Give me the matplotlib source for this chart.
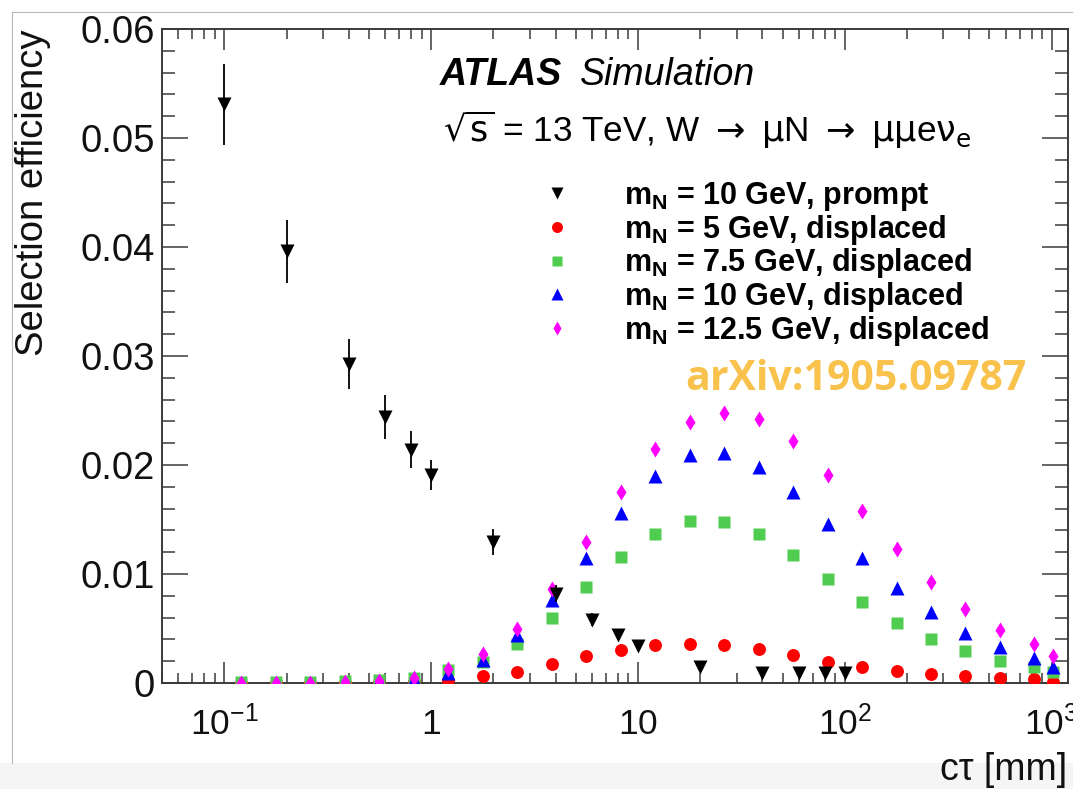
import numpy as np
import matplotlib
matplotlib.use('Agg')
import matplotlib.pyplot as plt
from matplotlib.ticker import FixedLocator, LogLocator, MultipleLocator, NullFormatter
from matplotlib.patches import Rectangle
from matplotlib.lines import Line2D

plt.rcParams['font.family'] = ['Liberation Sans', 'DejaVu Sans']
plt.rcParams['mathtext.fontset'] = 'custom'
plt.rcParams['mathtext.rm'] = 'Liberation Sans'
plt.rcParams['mathtext.it'] = 'Liberation Sans:italic'
plt.rcParams['mathtext.bf'] = 'Liberation Sans:bold'

# prompt sample, m_N = 10 GeV
ctau_prompt = [0.1, 0.2, 0.4, 0.6, 0.8, 1.0, 2.0, 4.0, 6.0, 8.0, 10, 20, 40, 60, 80, 100]
eff_prompt = [0.0531, 0.0396, 0.0293, 0.0244, 0.0214, 0.0191, 0.0129, 0.0082, 0.0058,
              0.0044, 0.0034, 0.0015, 0.0009, 0.0009, 0.0009, 0.0009]
err_prompt = [0.0037, 0.0029, 0.0023, 0.0020, 0.0017, 0.0014, 0.0012, 0.0008, 0.0006,
              0.0005, 0.0004, 0.0003, 0.0003, 0.0003, 0.0003, 0.0003]

# displaced samples
ctau_disp = [0.121, 0.178, 0.261, 0.383, 0.562, 0.825, 1.21, 1.78, 2.61, 3.83, 5.62, 8.25,
             12.1, 17.8, 26.1, 38.3, 56.2, 82.5, 121, 178, 261, 383, 562, 825, 1020]
eff_5 = [0.0, 0.0, 0.0, 0.0, 0.0, 0.0001, 0.0003, 0.0006, 0.0010, 0.0017, 0.0025, 0.0030,
         0.0035, 0.0036, 0.0035, 0.0031, 0.0026, 0.0019, 0.0015, 0.0011, 0.0008, 0.0006,
         0.0005, 0.0004, 0.0001]
eff_7p5 = [0.0001, 0.0001, 0.0001, 0.0002, 0.0003, 0.0005, 0.0012, 0.0019, 0.0036, 0.0060,
           0.0088, 0.0116, 0.0137, 0.0149, 0.0148, 0.0137, 0.0117, 0.0095, 0.0074, 0.0055,
           0.0040, 0.0029, 0.0020, 0.0015, 0.0010]
eff_10 = [0.0, 0.0, 0.0, 0.0001, 0.0002, 0.0004, 0.0009, 0.0021, 0.0044, 0.0076, 0.0115,
          0.0156, 0.0190, 0.0209, 0.0211, 0.0198, 0.0175, 0.0146, 0.0115, 0.0087, 0.0065,
          0.0046, 0.0033, 0.0023, 0.0015]
eff_12p5 = [0.0, 0.0, 0.0, 0.0001, 0.0002, 0.0005, 0.0013, 0.0027, 0.0050, 0.0086, 0.0129,
            0.0175, 0.0215, 0.0239, 0.0248, 0.0242, 0.0222, 0.0191, 0.0158, 0.0123, 0.0093,
            0.0068, 0.0049, 0.0036, 0.0025]

xticks = [0.1, 1, 10, 100, 1000]
xtick_labels = ['$10^{-1}$', '$1$', '$10$', '$10^{2}$', '$10^{3}$']
yticks = [0, 0.01, 0.02, 0.03, 0.04, 0.05, 0.06]
ytick_labels = ['0', '0.01', '0.02', '0.03', '0.04', '0.05', '0.06']

W, H = 1073, 789
fig = plt.figure(figsize=(W / 100, H / 100), dpi=100)
ax = fig.add_axes([162 / W, 1 - 683 / H, (1068 - 162) / W, (683 - 29) / H])

def fx(px):
    return px / W

def fy(py):
    return 1 - py / H

# page decorations: light band at bottom and thin grey border
fig.patches.append(Rectangle((0, 0), 1, fy(763), transform=fig.transFigure,
                             color='#f5f5f5', zorder=-10))
fig.lines.append(Line2D([fx(12), 1], [fy(12), fy(12)], transform=fig.transFigure,
                        color='#b8b8b8', lw=0.8))
fig.lines.append(Line2D([fx(12), fx(12)], [fy(12), fy(763)], transform=fig.transFigure,
                        color='#b8b8b8', lw=0.8))

ax.plot(ctau_disp, eff_5, 'o', color='#ff0000', ms=9.3, mec='none', zorder=3,
        label=r'$\mathbf{m_{N}}$ = 5 GeV, displaced')
ax.plot(ctau_disp, eff_7p5, 's', color='#50cc50', ms=8.6, mec='none', zorder=4,
        label=r'$\mathbf{m_{N}}$ = 7.5 GeV, displaced')
ax.plot(ctau_disp, eff_10, '^', color='#0000ff', ms=9.5, mec='none', zorder=5,
        label=r'$\mathbf{m_{N}}$ = 10 GeV, displaced')
ax.plot(ctau_disp, eff_12p5, 'd', color='#ff00ff', ms=8.5, mec='none', zorder=6,
        label=r'$\mathbf{m_{N}}$ = 12.5 GeV, displaced')
ax.errorbar(ctau_prompt, eff_prompt, yerr=err_prompt, fmt='none', ecolor='black',
            elinewidth=1.3, capsize=0, zorder=7)
ax.plot(ctau_prompt, eff_prompt, 'v', color='black', ms=9.5, mec='none', zorder=8,
        label=r'$\mathbf{m_{N}}$ = 10 GeV, prompt')

ax.set_xscale('log')
ax.set_xlim(0.05, 1200)
ax.set_ylim(0, 0.06)

ax.xaxis.set_major_locator(FixedLocator(xticks))
ax.xaxis.set_minor_locator(LogLocator(base=10, subs=np.arange(2, 10)))
ax.xaxis.set_minor_formatter(NullFormatter())
ax.set_xticks(xticks, labels=xtick_labels, va='baseline')
ax.set_yticks(yticks, labels=ytick_labels)
ax.yaxis.set_minor_locator(MultipleLocator(0.002))

frame_col = '#3a3a3a'
for sp in ax.spines.values():
    sp.set_color(frame_col)
    sp.set_linewidth(1.4)
ax.tick_params(which='both', direction='in', top=True, right=True, color=frame_col,
               width=1.1, labelcolor='#111111')
ax.tick_params(axis='x', which='major', length=15, pad=37, labelsize=25.5)
ax.tick_params(axis='x', which='minor', length=7)
ax.tick_params(axis='y', which='major', length=19, pad=5, labelsize=27.5)
ax.tick_params(axis='y', which='minor', length=9.5)

# axis titles, ROOT style (aligned to the ends of the axes)
fig.text(fx(33), fy(30), 'Selection efficiency', rotation=90, ha='center', va='top',
         fontsize=27.5, color='#111111')
fig.text(fx(1067), fy(770), 'cτ [mm]', ha='right', va='center', fontsize=27,
         color='#111111')

# labels
fig.text(fx(440), fy(85), 'ATLAS', fontsize=27, fontweight='bold', fontstyle='italic',
         va='baseline')
fig.text(fx(580), fy(85), 'Simulation', fontsize=27, fontstyle='italic', va='baseline')
fig.text(fx(443), fy(142),
         r'$\sqrt{\mathrm{s}}$ = 13 TeV, W $\rightarrow$ $\mathrm{\mu}$N '
         r'$\rightarrow$ $\mathrm{\mu\mu}$e$\mathrm{\nu_{e}}$',
         fontsize=25.3, va='baseline', math_fontfamily='dejavusans')
fig.text(fx(856), fy(390), 'arXiv:1905.09787', fontsize=29.5, fontweight='bold',
         family='Open Sans', color='#f8c24c', ha='center', va='baseline')

handles, labels = ax.get_legend_handles_labels()
order = [4, 0, 1, 2, 3]
leg = ax.legend([handles[i] for i in order], [labels[i] for i in order],
                loc='upper left', bbox_to_anchor=((542 - 162) / 906, (683 - 180) / 654),
                frameon=False, borderpad=0, borderaxespad=0, handlelength=1.0,
                handletextpad=1.68, labelspacing=-0.01, markerscale=0.85,
                prop={'family': 'Liberation Sans', 'weight': 'bold', 'size': 22})

fig.savefig('out.png', dpi=100)
